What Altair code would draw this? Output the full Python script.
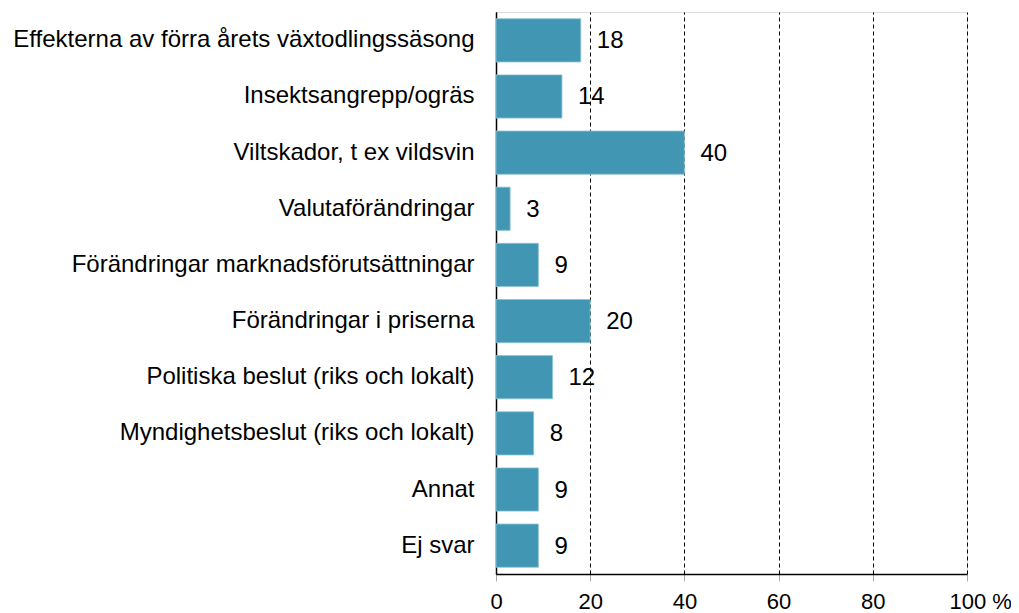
import altair as alt
import pandas as pd

categories = [
    "Effekterna av förra årets växtodlingssäsong",
    "Insektsangrepp/ogräs",
    "Viltskador, t ex vildsvin",
    "Valutaförändringar",
    "Förändringar marknadsförutsättningar",
    "Förändringar i priserna",
    "Politiska beslut (riks och lokalt)",
    "Myndighetsbeslut (riks och lokalt)",
    "Annat",
    "Ej svar",
]
values = [18, 14, 40, 3, 9, 20, 12, 8, 9, 9]
tick_values = [0, 20, 40, 60, 80, 100]

df = pd.DataFrame({"cat": categories, "val": values})

FONT = "Liberation Sans"

x = alt.X(
    "val:Q",
    scale=alt.Scale(domain=[0, 100], nice=False),
    axis=alt.Axis(
        values=tick_values,
        title=None,
        grid=True,
        gridColor="black",
        gridDash=[4, 3],
        gridWidth=1,
        domainColor="black",
        domainWidth=1.5,
        tickColor="#aaaaaa",
        tickSize=7,
        labelFontSize=22,
        labelFont=FONT,
        labelColor="black",
        labelPadding=10,
        labelFlush=False,
        labelOverlap=False,
        labelAlign={"condition": {"test": "datum.value === 100", "value": "left"}, "value": "center"},
        labelOffset={"condition": {"test": "datum.value === 100", "value": -18}, "value": 0},
        labelExpr="datum.value == 100 ? '100 %' : datum.label",
    ),
)
y = alt.Y(
    "cat:N",
    sort=categories,
    scale=alt.Scale(paddingInner=0.23, paddingOuter=0.12),
    axis=alt.Axis(
        title=None,
        ticks=False,
        domainColor="black",
        domainWidth=1.5,
        labelFontSize=24,
        labelFont=FONT,
        labelColor="black",
        labelPadding=22,
        labelLimit=600,
    ),
)

bars = alt.Chart(df).mark_bar(color="#4196b4", stroke="#8fc3d6", strokeWidth=0.8).encode(x=x, y=y)
labels = alt.Chart(df).mark_text(
    align="left", baseline="middle", dx=16, dy=1, fontSize=24, font=FONT, color="black"
).encode(x="val:Q", y=alt.Y("cat:N", sort=categories), text="val:Q")

chart = (
    alt.layer(bars, labels)
    .properties(
        width=471,
        height=562,
        autosize=alt.AutoSizeParams(type="none"),
        padding={"left": 488, "top": 4, "right": 44, "bottom": 40},
    )
    .configure_view(stroke=None)
    .configure(background="white")
)

chart.save("out.html", embed_options={"renderer": "svg", "actions": False})
